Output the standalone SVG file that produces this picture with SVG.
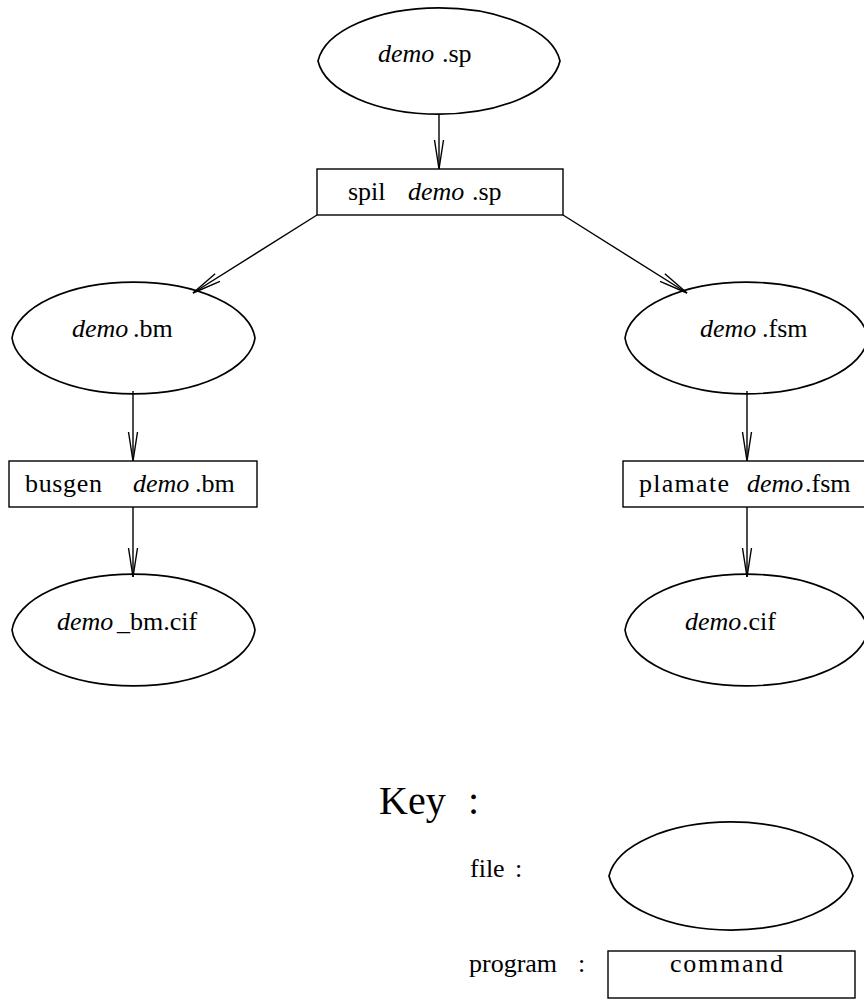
<svg xmlns="http://www.w3.org/2000/svg" width="864" height="999" viewBox="0 0 864 999">
<style>
.file{fill:none;stroke:#000;stroke-width:1.7}
.prog{fill:none;stroke:#000;stroke-width:1.4}
text{font-family:"Liberation Serif",serif;font-size:26px;fill:#000}
.i{font-style:italic}
.edge{fill:none;stroke:#000;stroke-width:1.4;marker-end:url(#ah)}
</style>
<defs>
<marker id="ah" markerUnits="userSpaceOnUse" markerWidth="32" markerHeight="12" viewBox="0 0 32 12" refX="30" refY="6" orient="auto">
<path d="M1,1.5 L30,6 L1,10.5" fill="none" stroke="#000" stroke-width="1.4"/>
</marker>
</defs>
<rect width="864" height="999" fill="#fff"/>
<g id="connectors">
<line class="edge" x1="439" y1="114" x2="439" y2="169"/>
<line class="edge" x1="317" y1="215" x2="193" y2="293"/>
<line class="edge" x1="563" y1="215" x2="687" y2="293"/>
<line class="edge" x1="133" y1="391" x2="133" y2="461"/>
<line class="edge" x1="133" y1="507" x2="133" y2="577"/>
<line class="edge" x1="747" y1="391" x2="747" y2="461"/>
<line class="edge" x1="747" y1="507" x2="747" y2="577"/>
</g>
<g id="demo_sp">
<path class="file" d="M318,61 A121.8,60 0 0 1 560,61 A121.8,60 0 0 1 318,61 Z"/>
<text y="62"><tspan class="i" x="378">demo</tspan><tspan x="442">.sp</tspan></text>
</g>
<g id="spil">
<rect class="prog" x="317" y="169" width="246" height="46"/>
<text y="200"><tspan x="348">spil</tspan><tspan class="i" x="408">demo</tspan><tspan x="472">.sp</tspan></text>
</g>
<g id="demo_bm">
<path class="file" d="M12,338 A121.8,60 0 0 1 255,338 A121.8,60 0 0 1 12,338 Z"/>
<text y="337"><tspan class="i" x="72">demo</tspan><tspan x="133">.bm</tspan></text>
</g>
<g id="demo_fsm">
<path class="file" d="M625,338 A121.8,60 0 0 1 868,338 A121.8,60 0 0 1 625,338 Z"/>
<text y="337"><tspan class="i" x="700">demo</tspan><tspan x="762">.fsm</tspan></text>
</g>
<g id="busgen">
<rect class="prog" x="9" y="461" width="248" height="46"/>
<text y="492"><tspan x="25" textLength="77">busgen</tspan><tspan class="i" x="133">demo</tspan><tspan x="195">.bm</tspan></text>
</g>
<g id="plamate">
<rect class="prog" x="623" y="461" width="243" height="46"/>
<text y="492"><tspan x="639" textLength="90">plamate</tspan><tspan class="i" x="747">demo</tspan><tspan x="805">.fsm</tspan></text>
</g>
<g id="demo_bm_cif">
<path class="file" d="M12,630 A121.8,60 0 0 1 255,630 A121.8,60 0 0 1 12,630 Z"/>
<text y="630"><tspan class="i" x="57">demo</tspan><tspan x="117">_bm.cif</tspan></text>
</g>
<g id="demo_cif">
<path class="file" d="M625,630 A121.8,60 0 0 1 868,630 A121.8,60 0 0 1 625,630 Z"/>
<text y="630"><tspan class="i" x="685">demo</tspan><tspan x="742">.cif</tspan></text>
</g>
<g id="key">
<text y="814" style="font-size:40px"><tspan x="379">Key</tspan><tspan x="468">:</tspan></text>
<text y="877"><tspan x="470">file</tspan><tspan x="515">:</tspan></text>
<path class="file" d="M609,876 A122.8,61 0 0 1 853,876 A122.8,61 0 0 1 609,876 Z"/>
<text y="972"><tspan x="469">program</tspan><tspan x="578">:</tspan></text>
<rect class="prog" x="608" y="951" width="247" height="47"/>
<text y="972" x="670" textLength="113">command</text>
</g>
</svg>
